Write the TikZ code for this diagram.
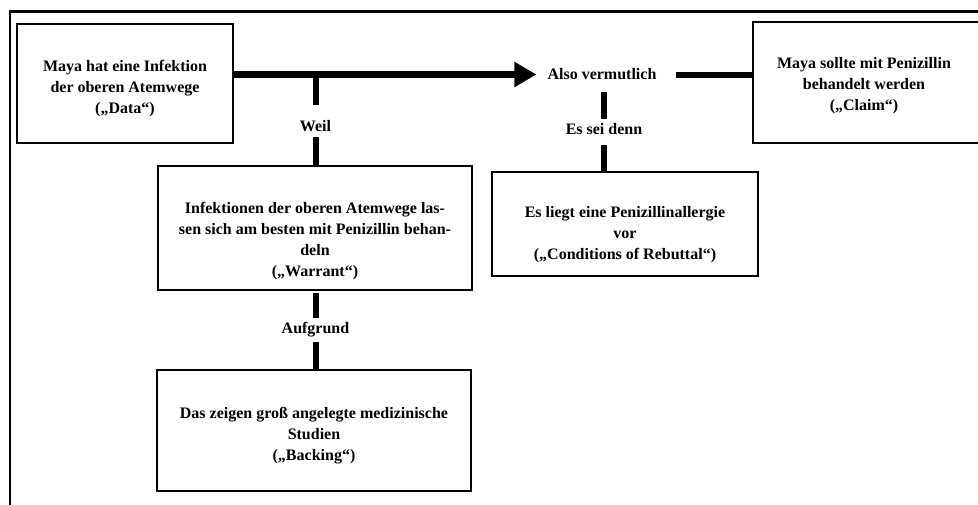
\documentclass[tikz,border=0pt]{standalone}
\usepackage{fontspec}
\setmainfont{Liberation Serif}
\usetikzlibrary{arrows.meta,calc}
\begin{document}
\begin{tikzpicture}[x=1pt,y=-1pt,
  box/.style={draw, line width=1.8pt, inner sep=0pt},
  boxtext/.style={anchor=north, align=center, inner sep=0pt, font=\bfseries\fontsize{16}{21}\selectfont},
  lbl/.style={inner sep=0pt, font=\bfseries\fontsize{16}{21}\selectfont},
  conn/.style={line width=6pt},
  mainarrow/.style={line width=7pt, -{Triangle[length=22pt,width=24pt]}}
]
\useasboundingbox (0,0) rectangle (978,504);
\clip (0,0) rectangle (978,504);
\fill[white] (0,0) rectangle (978,504);

% outer frame (cropped)
\draw[line width=2.6pt] (10,530) -- (10,11.5) -- (1000,11.5);

% boxes
\node[box, minimum width=216pt, minimum height=119pt] (data) at (125,83.5) {};
\node[box, minimum width=234pt, minimum height=121pt] (claim) at (870,82.5) {};
\node[box, minimum width=314pt, minimum height=124pt] (warrant) at (315,228) {};
\node[box, minimum width=266pt, minimum height=104pt] (rebuttal) at (625,224) {};
\node[box, minimum width=314pt, minimum height=121pt] (backing) at (314,430.5) {};

% box texts
\node[boxtext] (datat) at ([yshift=-37pt]data.north) {Maya hat eine Infektion\\der oberen Atemwege\\(„Data“)};
\node[boxtext] (claimt) at ([yshift=-36pt,xshift=-6pt]claim.north) {Maya sollte mit Penizillin\\behandelt werden\\(„Claim“)};
\node[boxtext] (warrantt) at ([yshift=-36.5pt]warrant.north) {Infektionen der oberen Atemwege las-\\sen sich am besten mit Penizillin behan-\\deln\\(„Warrant“)};
\node[boxtext] (rebuttalt) at ([yshift=-35.5pt]rebuttal.north) {Es liegt eine Penizillinallergie\\vor\\(„Conditions of Rebuttal“)};
\node[boxtext] (backingt) at ([yshift=-37.5pt]backing.north) {Das zeigen groß angelegte medizinische\\Studien\\(„Backing“)};

% labels
\node[lbl] (also) at (602,74.5) {Also vermutlich};
\node[lbl] (weil) at (315.5,126) {Weil};
\node[lbl] (esseidenn) at (604,129.5) {Es sei denn};
\node[lbl] (aufgrund) at (315.5,330) {Aufgrund};
\coordinate (wj) at (315.5,74.5);

% connectors
\draw[mainarrow, shorten >=11pt] (data.east |- also.west) -- (also.west);
\draw[conn, shorten <=19pt] (also.east) -- (claim.west |- also.east);
\draw[conn, shorten <=12pt, shorten >=5pt] (also.south -| esseidenn.north) -- (esseidenn.north);
\draw[conn, shorten <=10pt] (esseidenn.south) -- (esseidenn.south |- rebuttal.north);
\draw[conn, shorten >=15.5pt] (wj) -- (weil.north);
\draw[conn, shorten <=5.5pt] (weil.south) -- (weil.south |- warrant.north);
\draw[conn, shorten <=2pt, shorten >=4pt] (warrant.south -| aufgrund.north) -- (aufgrund.north);
\draw[conn, shorten <=4pt] (aufgrund.south) -- (aufgrund.south |- backing.north);
\end{tikzpicture}
\end{document}
